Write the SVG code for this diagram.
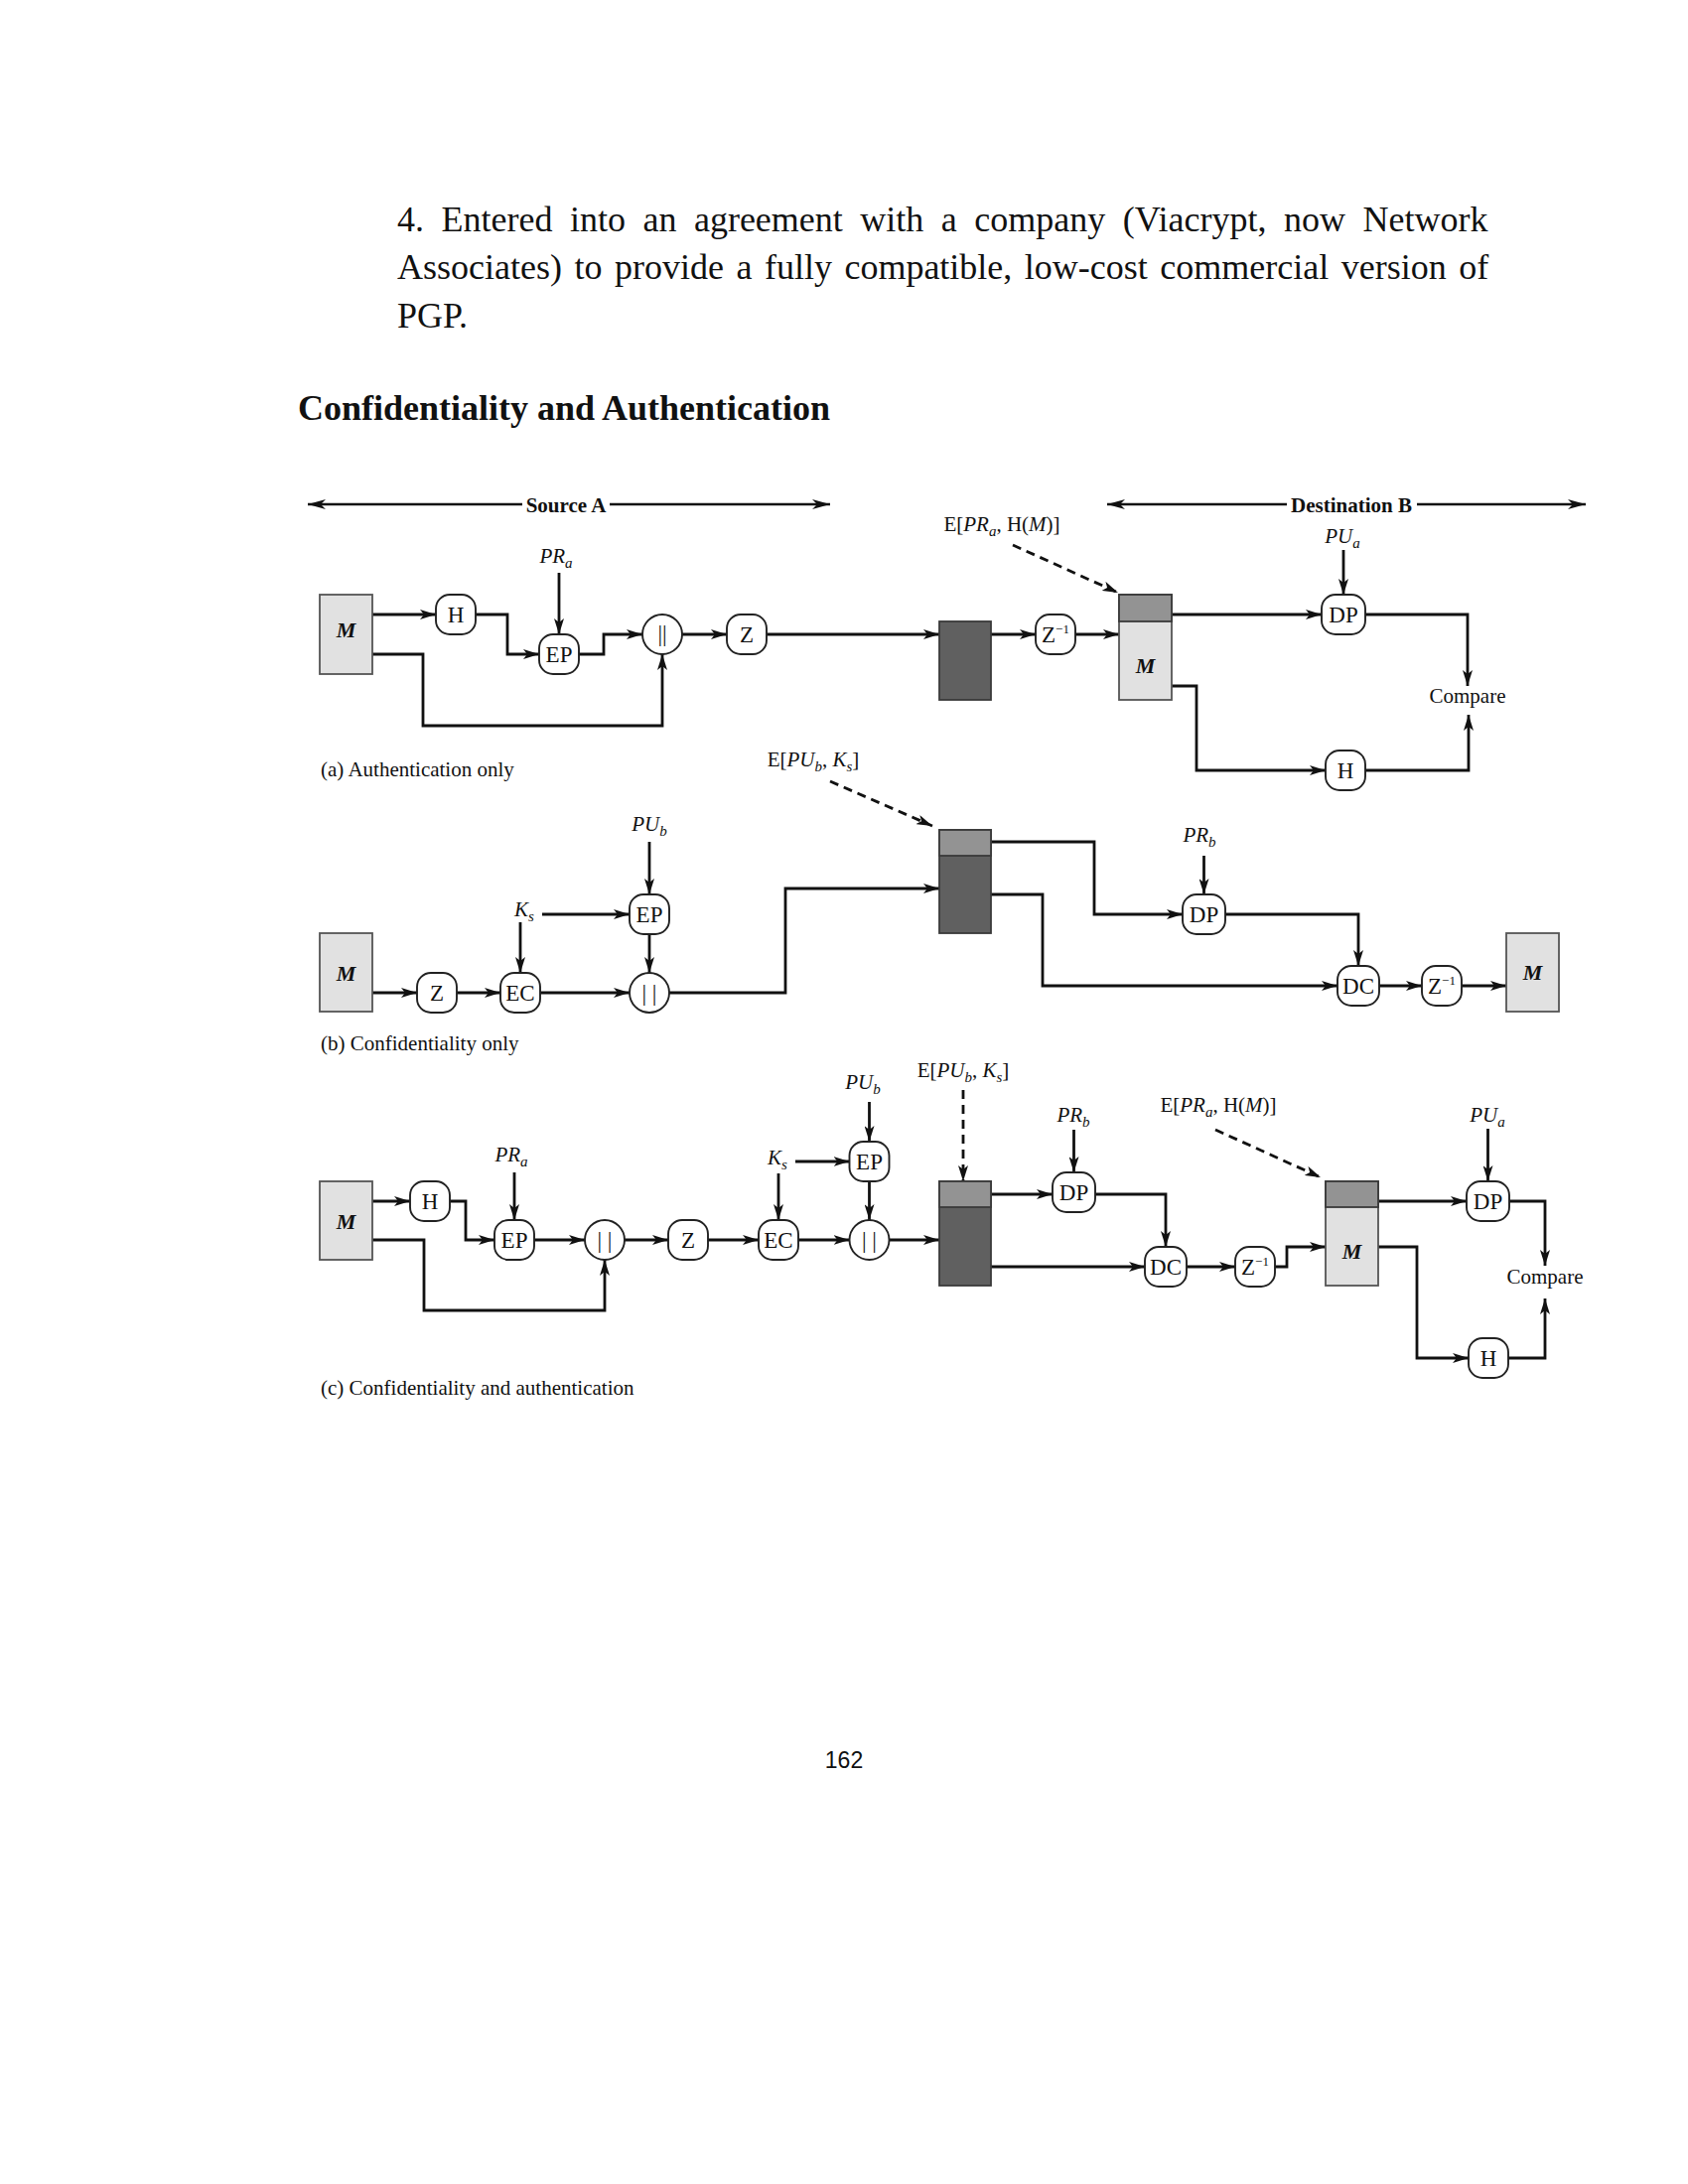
<svg xmlns="http://www.w3.org/2000/svg" width="1700" height="2200" viewBox="0 0 1700 2200">
<defs>
<marker id="ah" viewBox="0 0 16 10" refX="16" refY="5" markerWidth="16" markerHeight="10" orient="auto" markerUnits="userSpaceOnUse"><path d="M0,0 L16,5 L0,10 L4,5 z" fill="#111"/></marker>
<marker id="ah2" viewBox="0 0 18 10" refX="18" refY="5" markerWidth="18" markerHeight="10" orient="auto" markerUnits="userSpaceOnUse"><path d="M0,0 L18,5 L0,10 L5,5 z" fill="#111"/></marker>
<style>
.body{font-family:"Liberation Serif","Times New Roman",serif;font-size:36px;fill:#111}
.head{font-family:"Liberation Serif","Times New Roman",serif;font-size:36px;font-weight:bold;fill:#111}
.t{font-family:"Liberation Serif","Times New Roman",serif;font-size:23px;fill:#111}
.lab{font-family:"Liberation Serif","Times New Roman",serif;font-size:21px;fill:#111}
.cap{font-family:"Liberation Serif","Times New Roman",serif;font-size:21px;fill:#111}
.bold{font-weight:bold}
.i{font-style:italic}
.sub{font-size:15px}
.sup{font-size:13px}
.mtxt{font-family:"Liberation Serif","Times New Roman",serif;font-size:22px;font-weight:bold;font-style:italic;fill:#111}
.ln{fill:none;stroke:#111;stroke-width:2.8;marker-end:url(#ah)}
.dash{stroke-dasharray:9 6}
.span{fill:none;stroke:#111;stroke-width:2.4;marker-end:url(#ah2)}
.node{fill:#fff;stroke:#222;stroke-width:1.9}
.mbox{fill:#e1e1e1;stroke:#555;stroke-width:1.8}
.dark{fill:#606060;stroke:#3a3a3a;stroke-width:1.8}
.mid{fill:#939393;stroke:#3a3a3a;stroke-width:1.8}
.pg{font-family:"Liberation Sans",Arial,sans-serif;font-size:23px;fill:#111}
</style>
</defs>
<rect x="0" y="0" width="1700" height="2200" fill="#fff"/>

<g id="page-text">
<text class="body" x="400" y="233" word-spacing="8.5">4. Entered into an agreement with a company (Viacrypt, now Network</text>
<text class="body" x="400" y="281" word-spacing="3.5">Associates) to provide a fully compatible, low-cost commercial version of</text>
<text class="body" x="400" y="330">PGP.</text>
<text class="head" x="300" y="423">Confidentiality and Authentication</text>
<text class="pg" x="850" y="1781" text-anchor="middle">162</text>
</g>

<g id="connectors">
<!-- spans -->
<path class="span" d="M526,508 H310"/>
<path class="span" d="M614,508 H836"/>
<path class="span" d="M1296,508 H1115"/>
<path class="span" d="M1427,508 H1597"/>
<!-- (a) -->
<path class="ln" d="M375,619 H439"/>
<path class="ln" d="M479,619 H511 V659 H543"/>
<path class="ln" d="M563,577 V639"/>
<path class="ln" d="M583,659 H608 V639 H647"/>
<path class="ln" d="M375,659 H426 V731 H667 V659"/>
<path class="ln" d="M687,639 H732"/>
<path class="ln" d="M772,639 H946"/>
<path class="ln" d="M998,639 H1043"/>
<path class="ln" d="M1083,639 H1127"/>
<path class="ln dash" d="M1020,549 L1126,597"/>
<path class="ln" d="M1180,619 H1331"/>
<path class="ln" d="M1353,554 V599"/>
<path class="ln" d="M1375,619 H1478 V691"/>
<path class="ln" d="M1180,691 H1205 V776 H1335"/>
<path class="ln" d="M1375,776 H1479 V720"/>
<!-- (b) -->
<path class="ln" d="M375,1000 H420"/>
<path class="ln" d="M460,1000 H504"/>
<path class="ln" d="M544,1000 H634"/>
<path class="ln" d="M524,929 V980"/>
<path class="ln" d="M546,921 H634"/>
<path class="ln" d="M654,848 V901"/>
<path class="ln" d="M654,941 V980"/>
<path class="ln" d="M674,1000 H791 V895 H946"/>
<path class="ln dash" d="M836,787 L939,832"/>
<path class="ln" d="M998,848 H1102 V921 H1191"/>
<path class="ln" d="M1212.5,862 V901"/>
<path class="ln" d="M1234,921 H1368 V973"/>
<path class="ln" d="M998,901 H1050 V993 H1347"/>
<path class="ln" d="M1389,993 H1432"/>
<path class="ln" d="M1472,993 H1517"/>
<!-- (c) -->
<path class="ln" d="M375,1210 H413"/>
<path class="ln" d="M453,1210 H469 V1249 H498"/>
<path class="ln" d="M518,1181 V1229"/>
<path class="ln" d="M538,1249 H589"/>
<path class="ln" d="M375,1249 H427 V1320 H609 V1269"/>
<path class="ln" d="M629,1249 H673"/>
<path class="ln" d="M713,1249 H764"/>
<path class="ln" d="M784,1182 V1229"/>
<path class="ln" d="M801,1170 H855.5"/>
<path class="ln" d="M875.5,1110 V1150"/>
<path class="ln" d="M875.5,1190 V1229"/>
<path class="ln" d="M804,1249 H855.5"/>
<path class="ln" d="M895.5,1249 H946"/>
<path class="ln dash" d="M970,1098 V1190"/>
<path class="ln" d="M998,1203 H1060"/>
<path class="ln" d="M1081.5,1138 V1181"/>
<path class="ln" d="M1103,1203 H1174 V1256"/>
<path class="ln" d="M998,1276 H1153"/>
<path class="ln" d="M1195,1276 H1244"/>
<path class="ln" d="M1284,1276 H1296 V1256 H1335"/>
<path class="ln dash" d="M1224,1138 L1330,1186"/>
<path class="ln" d="M1388,1210 H1477"/>
<path class="ln" d="M1498.5,1137 V1190"/>
<path class="ln" d="M1520,1210 H1556 V1275"/>
<path class="ln" d="M1388,1256 H1427 V1368 H1479"/>
<path class="ln" d="M1519,1368 H1556 V1308"/>
</g>

<!-- ===== (a) Authentication only ===== -->
<g id="a-labels">
<text class="lab bold" x="570" y="516" text-anchor="middle">Source A</text>
<text class="lab bold" x="1361" y="516" text-anchor="middle">Destination B</text>
<text class="lab" x="560" y="567" text-anchor="middle"><tspan class="i">PR</tspan><tspan class="i sub" dy="5">a</tspan></text>
<text class="lab" x="1009" y="535" text-anchor="middle">E[<tspan class="i">PR</tspan><tspan class="i sub" dy="5">a</tspan><tspan dy="-5">, H(</tspan><tspan class="i">M</tspan>)]</text>
<text class="lab" x="1352" y="547" text-anchor="middle"><tspan class="i">PU</tspan><tspan class="i sub" dy="5">a</tspan></text>
<text class="lab" x="1478" y="708" text-anchor="middle">Compare</text>
<text class="cap" x="323" y="782">(a) Authentication only</text>
</g>
<g id="a-M"><rect class="mbox" x="322" y="599" width="53" height="80"/><text class="mtxt" x="348.5" y="642" text-anchor="middle">M</text></g>
<g id="a-H"><rect class="node" x="439" y="599" width="40" height="40" rx="14"/><text class="t" x="459" y="627" text-anchor="middle">H</text></g>
<g id="a-EP"><rect class="node" x="543" y="639" width="40" height="40" rx="14"/><text class="t" x="563" y="667" text-anchor="middle">EP</text></g>
<g id="a-concat"><circle class="node" cx="667" cy="639" r="20"/><text class="t" x="667" y="646" text-anchor="middle" font-size="19">||</text></g>
<g id="a-Z"><rect class="node" x="732" y="619" width="40" height="40" rx="14"/><text class="t" x="752" y="647" text-anchor="middle">Z</text></g>
<g id="a-packet"><rect class="dark" x="946" y="626" width="52" height="79"/></g>
<g id="a-Zinv"><rect class="node" x="1043" y="619" width="40" height="40" rx="14"/><text class="t" x="1063" y="647" text-anchor="middle">Z<tspan class="sup" dy="-9">−1</tspan></text></g>
<g id="a-recv"><rect class="mbox" x="1127" y="599" width="53" height="106"/><rect class="mid" x="1127" y="599" width="53" height="27"/><text class="mtxt" x="1153.5" y="678" text-anchor="middle">M</text></g>
<g id="a-DP"><rect class="node" x="1331" y="599" width="44" height="40" rx="14"/><text class="t" x="1353" y="627" text-anchor="middle">DP</text></g>
<g id="a-H2"><rect class="node" x="1335" y="756" width="40" height="40" rx="14"/><text class="t" x="1355" y="784" text-anchor="middle">H</text></g>

<!-- ===== (b) Confidentiality only ===== -->
<g id="b-labels">
<text class="lab" x="819" y="772" text-anchor="middle">E[<tspan class="i">PU</tspan><tspan class="i sub" dy="5">b</tspan><tspan dy="-5">, </tspan><tspan class="i">K</tspan><tspan class="i sub" dy="5">s</tspan><tspan dy="-5">]</tspan></text>
<text class="lab" x="654" y="837" text-anchor="middle"><tspan class="i">PU</tspan><tspan class="i sub" dy="5">b</tspan></text>
<text class="lab" x="528" y="923" text-anchor="middle"><tspan class="i">K</tspan><tspan class="i sub" dy="5">s</tspan></text>
<text class="lab" x="1208" y="848" text-anchor="middle"><tspan class="i">PR</tspan><tspan class="i sub" dy="5">b</tspan></text>
<text class="cap" x="323" y="1058">(b) Confidentiality only</text>
</g>
<g id="b-M"><rect class="mbox" x="322" y="940" width="53" height="79"/><text class="mtxt" x="348.5" y="988" text-anchor="middle">M</text></g>
<g id="b-Z"><rect class="node" x="420" y="980" width="40" height="40" rx="14"/><text class="t" x="440" y="1008" text-anchor="middle">Z</text></g>
<g id="b-EC"><rect class="node" x="504" y="980" width="40" height="40" rx="14"/><text class="t" x="524" y="1008" text-anchor="middle">EC</text></g>
<g id="b-EP"><rect class="node" x="634" y="901" width="40" height="40" rx="14"/><text class="t" x="654" y="929" text-anchor="middle">EP</text></g>
<g id="b-concat"><circle class="node" cx="654" cy="1000" r="20"/><text class="t" x="654" y="1008" text-anchor="middle">| |</text></g>
<g id="b-packet"><rect class="dark" x="946" y="836" width="52" height="104"/><rect class="mid" x="946" y="836" width="52" height="26"/></g>
<g id="b-DP"><rect class="node" x="1191" y="901" width="43" height="40" rx="14"/><text class="t" x="1212.5" y="929" text-anchor="middle">DP</text></g>
<g id="b-DC"><rect class="node" x="1347" y="973" width="42" height="40" rx="14"/><text class="t" x="1368" y="1001" text-anchor="middle">DC</text></g>
<g id="b-Zinv"><rect class="node" x="1432" y="973" width="40" height="40" rx="14"/><text class="t" x="1452" y="1001" text-anchor="middle">Z<tspan class="sup" dy="-9">−1</tspan></text></g>
<g id="b-M2"><rect class="mbox" x="1517" y="940" width="53" height="79"/><text class="mtxt" x="1543.5" y="987" text-anchor="middle">M</text></g>

<!-- ===== (c) Confidentiality and authentication ===== -->
<g id="c-labels">
<text class="lab" x="970" y="1085" text-anchor="middle">E[<tspan class="i">PU</tspan><tspan class="i sub" dy="5">b</tspan><tspan dy="-5">, </tspan><tspan class="i">K</tspan><tspan class="i sub" dy="5">s</tspan><tspan dy="-5">]</tspan></text>
<text class="lab" x="869" y="1097" text-anchor="middle"><tspan class="i">PU</tspan><tspan class="i sub" dy="5">b</tspan></text>
<text class="lab" x="515" y="1170" text-anchor="middle"><tspan class="i">PR</tspan><tspan class="i sub" dy="5">a</tspan></text>
<text class="lab" x="783" y="1173" text-anchor="middle"><tspan class="i">K</tspan><tspan class="i sub" dy="5">s</tspan></text>
<text class="lab" x="1081" y="1130" text-anchor="middle"><tspan class="i">PR</tspan><tspan class="i sub" dy="5">b</tspan></text>
<text class="lab" x="1227" y="1120" text-anchor="middle">E[<tspan class="i">PR</tspan><tspan class="i sub" dy="5">a</tspan><tspan dy="-5">, H(</tspan><tspan class="i">M</tspan>)]</text>
<text class="lab" x="1498" y="1130" text-anchor="middle"><tspan class="i">PU</tspan><tspan class="i sub" dy="5">a</tspan></text>
<text class="lab" x="1556" y="1293" text-anchor="middle">Compare</text>
<text class="cap" x="323" y="1405">(c) Confidentiality and authentication</text>
</g>
<g id="c-M"><rect class="mbox" x="322" y="1190" width="53" height="79"/><text class="mtxt" x="348.5" y="1238" text-anchor="middle">M</text></g>
<g id="c-H"><rect class="node" x="413" y="1190" width="40" height="40" rx="14"/><text class="t" x="433" y="1218" text-anchor="middle">H</text></g>
<g id="c-EP1"><rect class="node" x="498" y="1229" width="40" height="40" rx="14"/><text class="t" x="518" y="1257" text-anchor="middle">EP</text></g>
<g id="c-concat1"><circle class="node" cx="609" cy="1249" r="20"/><text class="t" x="609" y="1257" text-anchor="middle">| |</text></g>
<g id="c-Z"><rect class="node" x="673" y="1229" width="40" height="40" rx="14"/><text class="t" x="693" y="1257" text-anchor="middle">Z</text></g>
<g id="c-EC"><rect class="node" x="764" y="1229" width="40" height="40" rx="14"/><text class="t" x="784" y="1257" text-anchor="middle">EC</text></g>
<g id="c-EP2"><rect class="node" x="855.5" y="1150" width="40" height="40" rx="14"/><text class="t" x="875.5" y="1178" text-anchor="middle">EP</text></g>
<g id="c-concat2"><circle class="node" cx="875.5" cy="1249" r="20"/><text class="t" x="875.5" y="1257" text-anchor="middle">| |</text></g>
<g id="c-packet"><rect class="dark" x="946" y="1190" width="52" height="105"/><rect class="mid" x="946" y="1190" width="52" height="26"/></g>
<g id="c-DP1"><rect class="node" x="1060" y="1181" width="43" height="40" rx="14"/><text class="t" x="1081.5" y="1209" text-anchor="middle">DP</text></g>
<g id="c-DC"><rect class="node" x="1153" y="1256" width="42" height="40" rx="14"/><text class="t" x="1174" y="1284" text-anchor="middle">DC</text></g>
<g id="c-Zinv"><rect class="node" x="1244" y="1256" width="40" height="40" rx="14"/><text class="t" x="1264" y="1284" text-anchor="middle">Z<tspan class="sup" dy="-9">−1</tspan></text></g>
<g id="c-recv"><rect class="mbox" x="1335" y="1190" width="53" height="105"/><rect class="mid" x="1335" y="1190" width="53" height="26"/><text class="mtxt" x="1361.5" y="1268" text-anchor="middle">M</text></g>
<g id="c-DP2"><rect class="node" x="1477" y="1190" width="43" height="40" rx="14"/><text class="t" x="1498.5" y="1218" text-anchor="middle">DP</text></g>
<g id="c-H2"><rect class="node" x="1479" y="1348" width="40" height="40" rx="14"/><text class="t" x="1499" y="1376" text-anchor="middle">H</text></g>
</svg>
